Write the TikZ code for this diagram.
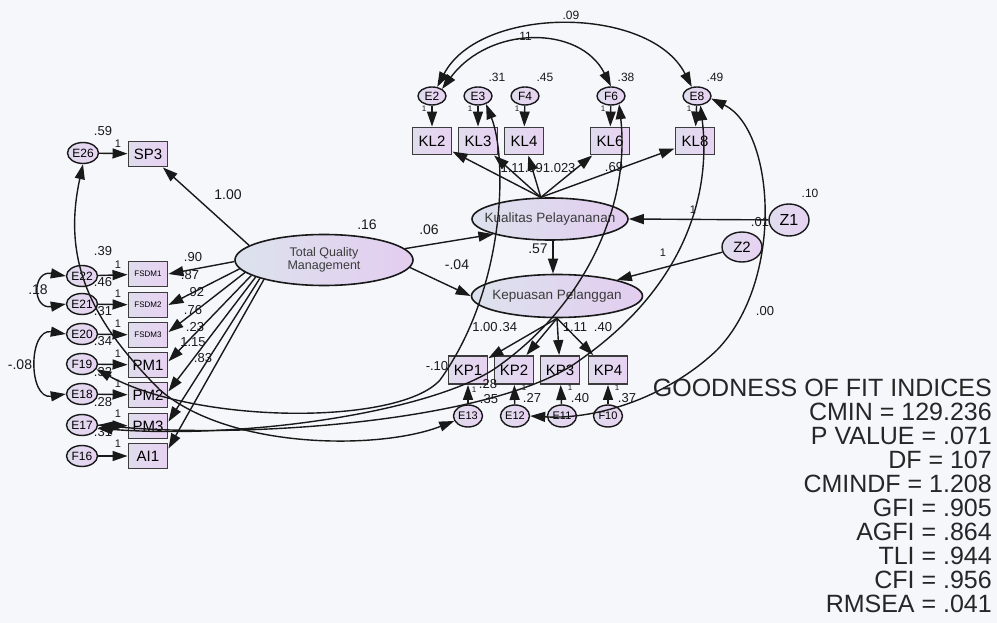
\documentclass[tikz,border=0pt]{standalone}
\usepackage{fontspec}
\setmainfont{Liberation Sans}
\usetikzlibrary{arrows.meta,shapes.geometric}
\definecolor{bgc}{RGB}{246,247,251}
\definecolor{latL}{RGB}{220,226,237}
\definecolor{latR}{RGB}{227,205,240}
\definecolor{errL}{RGB}{224,220,238}
\definecolor{errR}{RGB}{231,210,241}
\definecolor{ink}{RGB}{25,25,25}
\tikzset{
 lat/.style={ellipse, draw=ink, line width=1.6pt, left color=latL, right color=latR, inner sep=0pt},
 err/.style={ellipse, draw=ink, line width=1.4pt, left color=errL, right color=errR, inner sep=0pt, minimum width=31pt, minimum height=21pt, font=\fontsize{12}{12}\selectfont},
 obs/.style={rectangle, draw=ink!85, line width=1.9pt, left color=errL, right color=errR, inner sep=0pt, minimum width=39pt, minimum height=25pt, font=\fontsize{15}{15}\selectfont},
 arr/.style={draw=ink, line width=1.4pt, -{Triangle[length=15pt,width=10pt]}},
 cov/.style={draw=ink, line width=1.4pt, {Triangle[length=15pt,width=10pt]}-{Triangle[length=15pt,width=10pt]}},
 lbl/.style={font=\fontsize{13}{13}\selectfont, inner sep=0pt, text=ink},
 one/.style={font=\fontsize{11}{11}\selectfont, inner sep=0pt, text=ink},
 gof/.style={font=\fontsize{25}{25}\selectfont, inner sep=0pt, anchor=base east, text=black!85},
 lattext/.style={font=\fontsize{13.5}{13.5}\selectfont, inner sep=0pt, text=ink!85, align=center},
}
\begin{document}
\begin{tikzpicture}[x=1pt,y=-1pt]
\fill[bgc] (0,0) rectangle (997,623);
\useasboundingbox (0,0) rectangle (997,623);

% ---------- latent variables
\node[lat, minimum width=178pt, minimum height=51pt] (tqm) at (324,260) {};
\node[lattext, font=\fontsize{12.5}{13.5}\selectfont] (tqmt) at (tqm) {Total Quality\\Management};
\node[lat, minimum width=156pt, minimum height=42pt] (kual) at (550,219) {};
\node[lattext] (kualt) at (kual) {Kualitas Pelayananan};
\node[lat, minimum width=171pt, minimum height=43pt] (kep) at (557,296) {};
\node[lattext] (kept) at (kep) {Kepuasan Pelanggan};

% ---------- left indicators
\node[err] (e26) at (83,153) {E26};
\node[obs] (sp3) at (148,154) {SP3};
\node[err] (e22) at (82,276) {E22};
\node[obs, font=\fontsize{8}{8}\selectfont] (fsdm1) at (148,274) {FSDM1};
\node[err] (e21) at (82,304) {E21};
\node[obs, font=\fontsize{8}{8}\selectfont] (fsdm2) at (148,305) {FSDM2};
\node[err] (e20) at (82,334) {E20};
\node[obs, font=\fontsize{8}{8}\selectfont] (fsdm3) at (148,335) {FSDM3};
\node[err] (e19) at (82,364) {F19};
\node[obs] (pm1) at (148,365) {PM1};
\node[err] (e18) at (82,394) {E18};
\node[obs] (pm2) at (148,395) {PM2};
\node[err] (e17) at (82,425) {E17};
\node[obs] (pm3) at (148,426) {PM3};
\node[err] (e16) at (82,456) {F16};
\node[obs] (ai1) at (148,456) {AI1};

% ---------- top indicators
\node[err, minimum width=28pt, minimum height=18pt] (e2) at (432,96) {E2};
\node[err, minimum width=28pt, minimum height=18pt] (e3) at (478,96) {E3};
\node[err, minimum width=28pt, minimum height=18pt] (e4) at (525,96) {F4};
\node[err, minimum width=28pt, minimum height=18pt] (e6) at (611,96) {F6};
\node[err, minimum width=28pt, minimum height=18pt] (e8) at (697,96) {E8};
\node[obs, minimum height=27pt] (kl2) at (432,141) {KL2};
\node[obs, minimum height=27pt] (kl3) at (478,141) {KL3};
\node[obs, minimum height=27pt] (kl4) at (524,141) {KL4};
\node[obs, minimum height=27pt] (kl6) at (610,141) {KL6};
\node[obs, minimum height=27pt] (kl8) at (695,141) {KL8};

% ---------- bottom indicators
\node[obs, minimum height=28pt] (kp1) at (468,370) {KP1};
\node[obs, minimum height=28pt] (kp2) at (514,370) {KP2};
\node[obs, minimum height=28pt] (kp3) at (560,370) {KP3};
\node[obs, minimum height=28pt] (kp4) at (608,370) {KP4};
\node[err, minimum width=29pt, minimum height=22pt, font=\fontsize{11}{11}\selectfont] (e13) at (468,416) {E13};
\node[err, minimum width=29pt, minimum height=22pt, font=\fontsize{11}{11}\selectfont] (e12) at (515,416) {E12};
\node[err, minimum width=29pt, minimum height=22pt, font=\fontsize{11}{11}\selectfont] (e11) at (562,416) {E11};
\node[err, minimum width=29pt, minimum height=22pt, font=\fontsize{11}{11}\selectfont] (e10) at (608,416) {F10};

% ---------- disturbances
\node[err, minimum width=40pt, minimum height=32pt, font=\fontsize{16}{16}\selectfont] (z1) at (789,220) {Z1};
\node[err, minimum width=40pt, minimum height=30pt, font=\fontsize{15}{15}\selectfont] (z2) at (742,247) {Z2};

% ---------- left arrows
\draw[arr] (e26) -- (sp3);
\draw[arr] (e22) -- (fsdm1);
\draw[arr] (e21) -- (fsdm2);
\draw[arr] (e20) -- (fsdm3);
\draw[arr] (e19) -- (pm1);
\draw[arr] (e18) -- (pm2);
\draw[arr] (e17) -- (pm3);
\draw[arr] (e16) -- (ai1);

\draw[arr] (tqm.169) -- (sp3);
\draw[arr] (tqm.181) -- (fsdm1.east);
\draw[arr] (tqm.186) -- (fsdm2.east);
\draw[arr] (tqm.189) -- (fsdm3.8);
\draw[arr] (tqm.192) -- (pm1.10);
\draw[arr] (tqm.194) -- (pm2.10);
\draw[arr] (tqm.196) -- (pm3.12);
\draw[arr] (tqm.198) -- (ai1.20);

% ---------- structural
\draw[arr] (tqm.8) -- (kual.195);
\draw[arr] (tqm.-5) -- (kep.west);
\coordinate (vx) at (553,0);
\draw[arr] (kual.south -| vx) -- (kep.north -| vx);
\draw[arr] (z1) -- (kual.east);
\draw[arr] (z2) -- (kep.15);

% ---------- top measurement
\draw[arr] (e2) -- (kl2);
\draw[arr] (e3) -- (kl3);
\draw[arr] (e4) -- (kl4);
\draw[arr] (e6) -- (kl6);
\draw[arr] (e8) -- (kl8);
\draw[arr] (kual.113) -- (kl2);
\draw[arr] (kual.113) -- (kl3);
\draw[arr] (kual.113) -- (kl4);
\draw[arr] (kual.113) -- (kl6);
\draw[arr] (kual.113) -- (kl8);

% ---------- bottom measurement
\draw[arr] (kep.south) -- (kp1);
\draw[arr] (kep.south) -- (kp2);
\draw[arr] (kep.south) -- (kp3);
\draw[arr] (kep.south) -- (kp4);
\draw[arr] (e13) -- (kp1);
\draw[arr] (e12) -- (kp2);
\draw[arr] (e11) -- (kp3);
\draw[arr] (e10) -- (kp4);

% ---------- covariances
\draw[cov] (e2.60) .. controls (480,5) and (650,5) .. (e8.120);
\draw[cov] (e2.35) .. controls (490,25) and (580,25) .. (e6.north);
\draw[cov] (e22.west) .. controls (32,270) and (32,310) .. (e21.west);
\draw[cov] (e20.west) .. controls (28,328) and (28,400) .. (e18.west);
\draw[cov] (e26.south) .. controls (62,260) and (90,320) .. (160,390)
                       .. controls (230,450) and (380,450) .. (e13.200);
\draw[cov] (e3.-45) .. controls (508,160) and (505,290) .. (440,380)
                    .. controls (400,425) and (200,425) .. (e19.-20);
\draw[cov] (e6.-45) .. controls (630,200) and (590,300) .. (500,365)
                    .. controls (440,410) and (250,440) .. (e17.-12);
\draw[cov] (e8.-70) .. controls (712,200) and (680,290) .. (580,360)
                    .. controls (500,420) and (250,440) .. (e17.east);
\draw[cov] (e8.-10) .. controls (775,130) and (785,280) .. (717,350)
                    .. controls (670,395) and (600,420) .. (e12.east);

% ---------- labels left
\node[lbl] (l59) at (103,131) {.59};
\node[one] (o26) at (118,144) {1};
\node[lbl, font=\fontsize{14}{14}\selectfont] (l100) at (228,195) {1.00};
\node[lbl] (l39) at (103,251) {.39};
\node[one] (o22) at (118,265) {1};
\node[lbl] (l90) at (193,257) {.90};
\node[lbl] (l46) at (103,282) {.46};
\node[lbl] (l87) at (190,275) {.87};
\node[one] (o21) at (118,294) {1};
\node[lbl] (l92) at (195,292) {.92};
\node[lbl, font=\fontsize{14}{14}\selectfont] (l18) at (38,290) {.18};
\node[lbl] (l31a) at (103,311) {.31};
\node[lbl] (l76) at (193,310) {.76};
\node[one] (o20) at (118,324) {1};
\node[lbl] (l23) at (195,327) {.23};
\node[lbl] (l34) at (103,341) {.34};
\node[lbl] (l115) at (193,342) {1.15};
\node[one] (o19) at (118,354) {1};
\node[lbl] (l83) at (203,358) {.83};
\node[lbl, font=\fontsize{14}{14}\selectfont] (l08) at (20,365) {-.08};
\node[lbl] (l32) at (103,372) {.32};
\node[one] (o18) at (118,384) {1};
\node[lbl] (l28) at (103,402) {.28};
\node[one] (o17) at (118,414) {1};
\node[lbl] (l31b) at (103,432) {.31};
\node[one] (o16) at (118,444) {1};

% ---------- labels top
\node[lbl, font=\fontsize{12}{12}\selectfont] (l09) at (571,15) {.09};
\node[lbl, font=\fontsize{12}{12}\selectfont] (l11) at (524,36) {.11};
\node[lbl, font=\fontsize{12}{12}\selectfont] (l31t) at (497,77) {.31};
\node[lbl, font=\fontsize{12}{12}\selectfont] (l45) at (545,77) {.45};
\node[lbl, font=\fontsize{12}{12}\selectfont] (l38) at (626,77) {.38};
\node[lbl, font=\fontsize{12}{12}\selectfont] (l49) at (715,77) {.49};
\node[one, font=\fontsize{8}{8}\selectfont] (t2) at (424,109) {1};
\node[one, font=\fontsize{8}{8}\selectfont] (t3) at (470,109) {1};
\node[one, font=\fontsize{8}{8}\selectfont] (t4) at (517,109) {1};
\node[one, font=\fontsize{8}{8}\selectfont] (t6) at (603,109) {1};
\node[one, font=\fontsize{8}{8}\selectfont] (t8) at (689,109) {1};
\node[lbl] (lkl) at (538,168) {1.11.091.023};
\node[lbl] (l69) at (614,167) {.69};

% ---------- labels structural
\node[lbl, font=\fontsize{14}{14}\selectfont] (l16) at (367,225) {.16};
\node[lbl, font=\fontsize{14}{14}\selectfont] (l06) at (429,230) {.06};
\node[lbl, font=\fontsize{14}{14}\selectfont] (l04) at (457,265) {-.04};
\node[lbl, font=\fontsize{14}{14}\selectfont] (l57) at (538,249) {.57};
\node[one] (oz1) at (693,210) {1};
\node[one] (oz2) at (663,253) {1};
\node[lbl] (l01) at (760,222) {.01};
\node[lbl, font=\fontsize{12}{12}\selectfont] (l10) at (810,193) {.10};
\node[lbl] (l00) at (765,311) {.00};

% ---------- labels bottom
\node[lbl] (lk1) at (485,327) {1.00};
\node[lbl] (lk2) at (508,327) {.34};
\node[lbl] (lk3) at (575,327) {1.11};
\node[lbl] (lk4) at (603,327) {.40};
\node[lbl] (lm10) at (437,366) {-.10};
\node[lbl] (l28b) at (488,384) {.28};
\node[lbl] (l35) at (489,399) {.35};
\node[lbl] (l27) at (532,398) {.27};
\node[lbl] (l40) at (580,398) {.40};
\node[lbl] (l37) at (627,398) {.37};
\node[one, font=\fontsize{8}{8}\selectfont] (b13) at (474,390) {1};
\node[one, font=\fontsize{8}{8}\selectfont] (b12) at (524,388) {1};
\node[one, font=\fontsize{8}{8}\selectfont] (b11) at (570,388) {1};
\node[one, font=\fontsize{8}{8}\selectfont] (b10) at (617,388) {1};

% ---------- goodness of fit
\node[gof] (g0) at (992,396) {GOODNESS OF FIT INDICES};
\node[gof] (g1) at (992,420) {CMIN = 129.236};
\node[gof] (g2) at (992,444) {P VALUE = .071};
\node[gof] (g3) at (992,468) {DF = 107};
\node[gof] (g4) at (992,492) {CMINDF = 1.208};
\node[gof] (g5) at (992,516) {GFI = .905};
\node[gof] (g6) at (992,540) {AGFI = .864};
\node[gof] (g7) at (992,564) {TLI = .944};
\node[gof] (g8) at (992,588) {CFI = .956};
\node[gof] (g9) at (992,612) {RMSEA = .041};
\end{tikzpicture}
\end{document}
